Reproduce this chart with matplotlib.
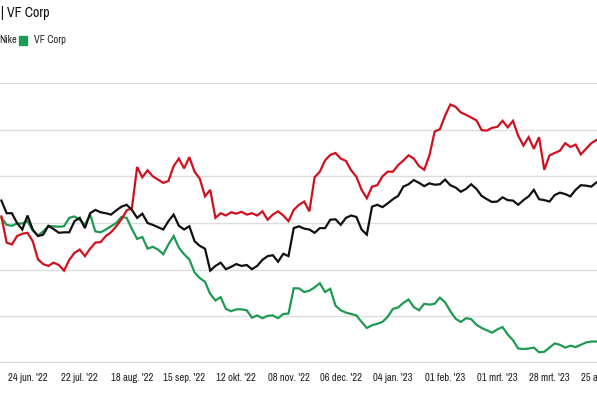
import matplotlib
matplotlib.use("Agg")
import matplotlib.pyplot as plt
from matplotlib import font_manager
from matplotlib.patches import Rectangle

# === data: koersverloop in %, per 2 handelsdagen (index 0 = 24 jun. '22) ===
days = list(range(-10, 222, 2))

nike = [4.8, 2.1, 2.1, 0, -1.4, 1.6, -1.4, -2.8, -2.5, -0.6, -1.3, -2.1, -2.0, -2.0, 0.4,
        1.1, -1.1, 2.1, 2.8, 2.3, 2.1, 1.8, 2.7, 3.5, 3.9, 2.8, 1.1, 2.0, 0,
        -0.4, -0.9, -1.4, 0.4, 1.8, -0.6, -1.4, -0.7, -3.9, -4.9, -5.5, -10.2, -9.2, -8.5, -9.9,
        -9.4, -8.8, -9.2, -9.0, -9.9, -9.2, -7.9, -7.1, -6.9, -8.3, -6.6, -7.1, -1.1, -0.7,
        -1.2, -1.4, -2.1, -1.1, -1.1, 0.7, 0.8, -0.4, 1.1, 1.6, 1.3, -1.4, -2.5, 3.5, 3.9,
        3.4, 4.2, 5.1, 5.8, 7.8, 8.3, 9.2, 8.6, 7.9, 8.5, 8.2, 8.3, 9.3, 8.1,
        7.6, 6.7, 7.3, 8.3, 7.3, 5.8, 5.1, 4.5, 4.6, 5.5, 4.9, 4.8, 3.9, 4.9, 5.7,
        7.1, 5.1, 4.9, 4.6, 6.0, 6.5, 6.2, 5.7, 7.1, 8.1, 8.0, 7.8, 8.7, 9.0]

# rode lijn (legenda valt buiten beeld)
red_peer = [1.4, -4.2, -4.6, -2.8, -2.3, -2.1, -3.9, -7.8, -8.8, -9.2, -8.5, -9.0, -10.2, -7.9, -6.4,
            -5.7, -7.1, -5.5, -4.2, -4.1, -2.8, -2.0, -0.7, 0.8, 2.7, 3.2, 12.0, 9.8, 11.3,
            10.0, 9.3, 8.6, 9.0, 12.2, 13.8, 11.7, 14.1, 11.0, 9.5, 5.7, 7.1, 1.1, 2.1, 1.6,
            2.3, 2.0, 2.4, 1.8, 2.1, 1.6, 2.5, 0.7, 1.8, 2.5, 1.6, 0.4, 2.8, 3.9,
            4.6, 2.5, 9.8, 11.0, 13.4, 14.6, 15.0, 13.8, 13.3, 11.3, 9.9, 7.1, 5.3, 7.8, 8.1,
            10.0, 11.0, 11.0, 12.4, 13.4, 14.5, 13.8, 12.2, 11.4, 14.5, 19.6, 20.1, 23.0, 25.4,
            24.9, 23.7, 23.2, 22.6, 22.0, 19.9, 19.8, 20.4, 20.6, 21.9, 20.5, 21.9, 18.7, 16.6, 18.4,
            15.9, 18.4, 11.4, 14.5, 15.0, 15.5, 17.1, 16.3, 16.8, 14.7, 15.9, 17.1, 17.8, 17.3]

vf_corp = [1.1, -0.4, -0.6, -0.1, -0.1, 0.4, -1.6, -2.7, -1.8, -0.7, -0.7, -0.8, -0.7, 1.1, 1.4,
           0.7, -0.4, 1.8, -1.8, -2.0, -1.4, -0.7, 0, 1.3, 1.1, -1.3, -3.4, -3.0, -5.5,
           -5.1, -5.7, -6.7, -4.6, -2.8, -5.3, -6.7, -7.8, -10.6, -11.8, -12.6, -15.2, -16.6, -15.9, -18.4,
           -18.9, -18.5, -18.5, -18.7, -20.3, -19.8, -20.4, -19.9, -19.8, -20.4, -19.5, -19.4, -14.0, -14.0,
           -14.8, -14.5, -13.8, -12.9, -14.8, -14.1, -17.7, -18.7, -19.2, -19.5, -19.8, -21.2, -22.5, -21.9, -21.6,
           -21.2, -20.1, -18.4, -18.1, -17.1, -16.4, -18.0, -18.7, -17.3, -17.5, -17.3, -16.0, -17.0, -18.9,
           -20.5, -21.2, -20.4, -20.6, -21.8, -22.5, -23.0, -23.5, -22.8, -22.3, -23.9, -25.1, -26.9, -27.0, -26.9,
           -26.7, -27.7, -27.6, -26.7, -25.8, -26.1, -26.7, -26.3, -26.6, -26.1, -25.6, -25.4, -25.4, -25.2]

tick_days = [0, 20, 40, 60, 80, 100, 120, 140, 160, 180, 200, 220]
tick_labels = ["24 jun. '22", "22 jul. '22", "18 aug. '22", "15 sep. '22", "12 okt. '22",
               "08 nov. '22", "06 dec. '22", "04 jan. '23", "01 feb. '23", "01 mrt. '23",
               "28 mrt. '23", "25 apr. '23"]

# smal lettertype zoeken (condensed), anders DejaVu
names = {f.name for f in font_manager.fontManager.ttflist}
cands = sorted(n for n in names if 'Narrow' in n or 'Condensed' in n)
FONT = cands + ['DejaVu Sans']
plt.rcParams['font.family'] = FONT
plt.rcParams['font.stretch'] = 'condensed'

RED = '#d0101f'
GREEN = '#1f9a52'
BLACK = '#111111'

fig = plt.figure(figsize=(5.97, 3.98), dpi=100)

# assen lopen iets voorbij de rechterrand (afgesneden, zoals het origineel)
x_left, x_right = -10.54, 222
px_per_day = 2.61
width = (x_right - x_left) * px_per_day / 597
ax = fig.add_axes([0, 35 / 398, width, 280 / 398])

ax.plot(days, vf_corp, color=GREEN, lw=1.6, solid_joinstyle='miter')
ax.plot(days, red_peer, color=RED, lw=1.6, solid_joinstyle='miter')
ax.plot(days, nike, color=BLACK, lw=1.6, solid_joinstyle='miter')

ax.set_xlim(x_left, x_right)
ax.set_ylim(-30, 30)
ax.set_yticks([-30, -20, -10, 0, 10, 20, 30])
ax.set_yticklabels([])
ax.grid(axis='y', color='#dddddd', lw=1)
ax.set_axisbelow(True)
for s in ax.spines.values():
    s.set_visible(False)
ax.axhline(-30, color='#d6d6d6', lw=1.5, zorder=0)

ax.set_xticks(tick_days)
ax.set_xticklabels(tick_labels, fontsize=7.6, color='#222222', fontweight='bold')
ax.tick_params(axis='x', length=0, pad=7)
ax.tick_params(axis='y', length=0)

# titel + legenda (links afgesneden)
fig.text(0.002, 1 - 13 / 398, "| VF Corp", fontsize=10, fontweight='bold',
         color='#111111', va='center', ha='left')
fig.text(-0.002, 1 - 40 / 398, "Nike", fontsize=7.5, color='#222222', va='center', ha='left')
fig.patches.append(Rectangle((19 / 597, 1 - 45 / 398), 8 / 597, 9 / 398,
                             transform=fig.transFigure, color=GREEN))
fig.text(34 / 597, 1 - 40 / 398, "VF Corp", fontsize=7.5, color='#222222', va='center', ha='left')

fig.savefig('out.png', dpi=100)
